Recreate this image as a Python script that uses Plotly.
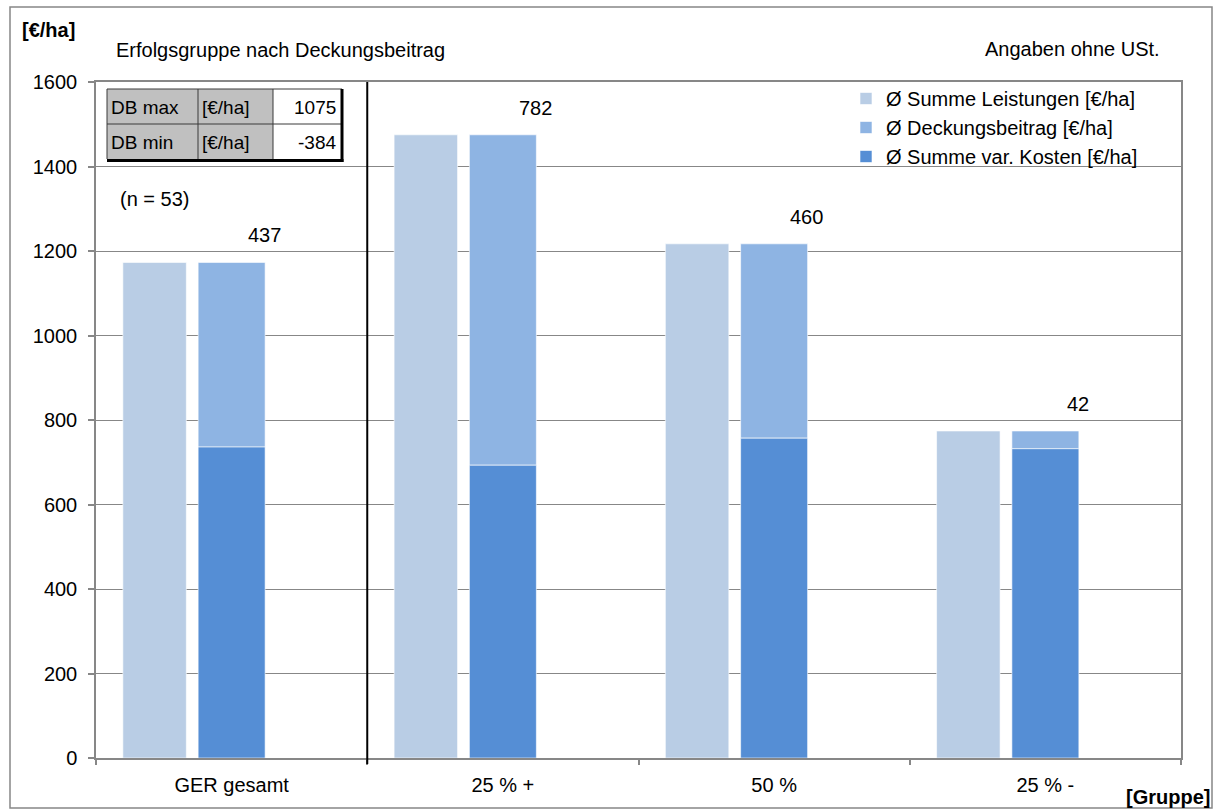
import plotly.graph_objects as go

# ---------------- data ----------------
categories = ["GER gesamt", "25 % +", "50 %", "25 % -"]
summe_leistungen = [1173, 1475, 1217, 774]
deckungsbeitrag = [437, 782, 460, 42]
summe_var_kosten = [736, 693, 757, 732]
y_tick_values = [0, 200, 400, 600, 800, 1000, 1200, 1400, 1600]

table_labels = ["DB max", "DB min"]
table_units = ["[€/ha]", "[€/ha]"]
table_values = [1075, -384]

series_names = ["Ø Summe Leistungen [€/ha]", "Ø Deckungsbeitrag [€/ha]", "Ø Summe var. Kosten [€/ha]"]

# ---------------- styles ----------------
FONT = "Arial, 'Liberation Sans', sans-serif"
C_LEIST = "#B9CDE5"
C_DB = "#8EB4E3"
C_KOST = "#558ED5"
GRID = "#878787"

W, H = 1216, 812
ML, MR, MT, MB = 96, 35, 82, 54
PW, PH = W - ML - MR, H - MT - MB


def px(x):
    return (x - ML) / PW


def py(y):
    return (H - MB - y) / PH


xs = list(range(len(categories)))
fig = go.Figure()
fig.add_bar(x=[i - 0.284 for i in xs], y=summe_leistungen, width=0.234, name=series_names[0],
            marker=dict(color=C_LEIST, line=dict(color="rgba(255,255,255,0.6)", width=1)))
fig.add_bar(x=xs, y=deckungsbeitrag, base=summe_var_kosten, width=0.247, name=series_names[1],
            marker=dict(color=C_DB, line=dict(color="rgba(255,255,255,0.6)", width=1)))
fig.add_bar(x=xs, y=summe_var_kosten, width=0.247, name=series_names[2],
            marker=dict(color=C_KOST, line=dict(color="rgba(255,255,255,0.6)", width=1)))

annotations = []
for i in xs:
    annotations.append(dict(x=i + 0.12, y=summe_var_kosten[i] + deckungsbeitrag[i], xref="x", yref="y",
                            text=str(deckungsbeitrag[i]), showarrow=False, yshift=27,
                            font=dict(size=20, color="black", family=FONT)))

def txt(text, x, y, xanchor="left", size=20, bold=False):
    return dict(x=px(x), y=py(y), xref="paper", yref="paper", text=("<b>%s</b>" % text) if bold else text,
                showarrow=False, xanchor=xanchor, yanchor="middle",
                font=dict(size=size, color="black", family=FONT))

annotations += [
    txt("[€/ha]", 20, 30, bold=True),
    txt("Erfolgsgruppe nach Deckungsbeitrag", 114, 50),
    txt("Angaben ohne USt.", 1162, 49, xanchor="right"),
    txt("(n = 53)", 118, 199),
    txt("[Gruppe]", 1212, 797, xanchor="right", bold=True),
]

shapes = []
# outer frame
shapes.append(dict(type="rect", xref="paper", yref="paper", x0=px(10), x1=px(1212), y0=py(808), y1=py(7),
                   line=dict(color=GRID, width=1.5), layer="below"))
# divider line
shapes.append(dict(type="line", xref="x", yref="paper", x0=0.5, x1=0.5, y0=py(764), y1=1,
                   line=dict(color="black", width=2), layer="above"))

# table
tx0, tx1, tx2, tx3 = 107, 198, 273, 342
ty0, ty1, ty2 = 89, 124, 159
shapes.append(dict(type="rect", xref="paper", yref="paper", x0=px(tx0), x1=px(tx2), y0=py(ty2), y1=py(ty0),
                   fillcolor="#C0C0C0", line=dict(width=0), layer="above"))
shapes.append(dict(type="rect", xref="paper", yref="paper", x0=px(tx2), x1=px(tx3), y0=py(ty2), y1=py(ty0),
                   fillcolor="white", line=dict(width=0), layer="above"))
for (a, b, c, d) in [(tx0, ty0, tx3, ty0), (tx0, ty1, tx3, ty1), (tx0, ty0, tx0, ty2),
                     (tx1, ty0, tx1, ty2), (tx2, ty0, tx2, ty2)]:
    shapes.append(dict(type="line", xref="paper", yref="paper", x0=px(a), x1=px(c), y0=py(b), y1=py(d),
                       line=dict(color="#3a3a3a", width=1), layer="above"))
shapes.append(dict(type="line", xref="paper", yref="paper", x0=px(tx0), x1=px(tx3 + 1.5), y0=py(ty2 + 1.5),
                   y1=py(ty2 + 1.5), line=dict(color="black", width=3), layer="above"))
shapes.append(dict(type="line", xref="paper", yref="paper", x0=px(tx3), x1=px(tx3), y0=py(ty2 + 3),
                   y1=py(ty0), line=dict(color="black", width=3), layer="above"))

for r in range(len(table_labels)):
    cy = (ty0 + ty1) / 2 if r == 0 else (ty1 + ty2) / 2
    annotations.append(txt(table_labels[r], tx0 + 2, cy + 1, size=19))
    annotations.append(txt(table_units[r], tx1 + 2, cy + 1, size=19))
    annotations.append(txt(str(table_values[r]), tx3 - 4, cy + 1, xanchor="right", size=19))

fig.update_layout(
    width=W, height=H,
    margin=dict(l=ML, r=MR, t=MT, b=MB),
    paper_bgcolor="white", plot_bgcolor="white",
    barmode="overlay",
    font=dict(family=FONT, size=20, color="black"),
    showlegend=True,
    legend=dict(x=px(846), y=py(79), xanchor="left", yanchor="top", traceorder="normal",
                bgcolor="rgba(0,0,0,0)", font=dict(size=20, family=FONT, color="black"),
                itemwidth=30, tracegroupgap=0),
    annotations=annotations,
    shapes=shapes,
    xaxis=dict(range=[-0.5, 3.5], tickmode="array", tickvals=xs, ticktext=categories, ticks="",
               showgrid=False, zeroline=False, showline=True, linecolor=GRID, linewidth=1.5, mirror=True,
               ticklabelstandoff=8, tickfont=dict(size=20),
               minor=dict(tickmode="array", tickvals=[-0.5, 0.5, 1.5, 2.5, 3.5], ticks="outside",
                          ticklen=5, tickcolor=GRID, tickwidth=1.5, showgrid=False)),
    yaxis=dict(range=[0, 1600], tickmode="array", tickvals=y_tick_values, ticks="outside", ticklen=6,
               tickcolor=GRID, tickwidth=1.5, showgrid=True, gridcolor=GRID, gridwidth=1, zeroline=False,
               showline=True, linecolor=GRID, linewidth=1.5, mirror=True, ticklabelstandoff=7,
               tickfont=dict(size=20)),
)

fig.write_html("out.html")
